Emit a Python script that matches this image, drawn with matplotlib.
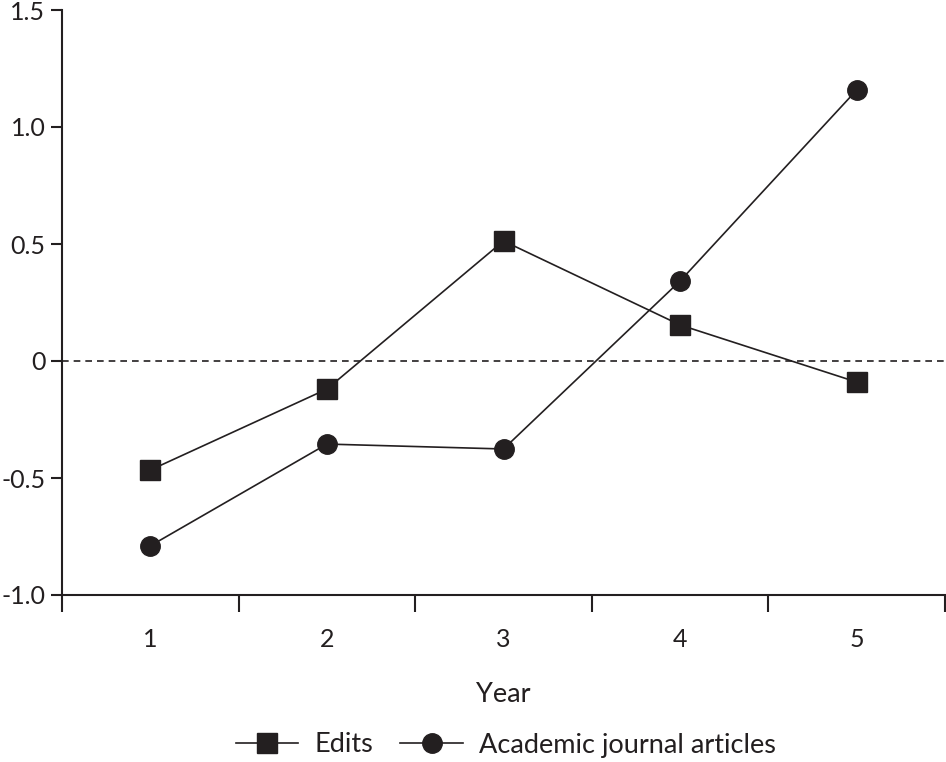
import matplotlib
matplotlib.use("Agg")
import matplotlib.pyplot as plt

years = ["1", "2", "3", "4", "5"]
edits = [-0.466, -0.12, 0.513, 0.154, -0.09]
articles = [-0.79, -0.355, -0.376, 0.342, 1.158]
yticks = [-1.0, -0.5, 0, 0.5, 1.0, 1.5]
ytick_labels = ["-1.0", "-0.5", "0", "0.5", "1.0", "1.5"]

plt.rcParams['font.family'] = ['Lato', 'DejaVu Sans']
ink = '#231f20'

fig = plt.figure(figsize=(9.46, 7.62), dpi=100)
ax = fig.add_axes([62/946, 167/762, (945-62)/946, (752-167)/762])

x = list(range(1, len(years) + 1))
ax.plot(x, edits, color=ink, lw=1.2, marker='s', markersize=15, label='Edits')
ax.plot(x, articles, color=ink, lw=1.2, marker='o', markersize=14, label='Academic journal articles')
ax.axhline(0, color=ink, lw=1.2, ls=(0, (4, 3)))

ax.set_xlim(0.5, len(years) + 0.5)
ax.set_ylim(-1.0, 1.5)
ax.set_yticks(yticks)
ax.set_yticklabels(ytick_labels)
ax.set_xticks([i + 0.5 for i in range(0, len(years) + 1)])
ax.set_xticklabels([])
ax.set_xticks(x, minor=True)
ax.set_xticklabels(years, minor=True)
ax.tick_params(axis='x', which='minor', length=0, pad=24, labelsize=18, colors=ink)
ax.tick_params(axis='x', which='major', length=12, width=1.5, direction='out', color=ink)
ax.tick_params(axis='y', length=8, width=1.5, direction='out', color=ink, labelsize=18, labelcolor=ink, pad=4)

for s in ['top', 'right']:
    ax.spines[s].set_visible(False)
for s in ['left', 'bottom']:
    ax.spines[s].set_color(ink)
    ax.spines[s].set_linewidth(1.5)

ax.set_xlabel('Year', fontsize=19.5, color=ink, labelpad=22)

leg = fig.legend(loc='center', bbox_to_anchor=(506/946, 1 - 745/762), ncol=2, frameon=False,
                 fontsize=19.5, handlelength=2.3, columnspacing=1.0, handletextpad=0.6)
for t in leg.get_texts():
    t.set_color(ink)

fig.savefig('out.png', dpi=100)
